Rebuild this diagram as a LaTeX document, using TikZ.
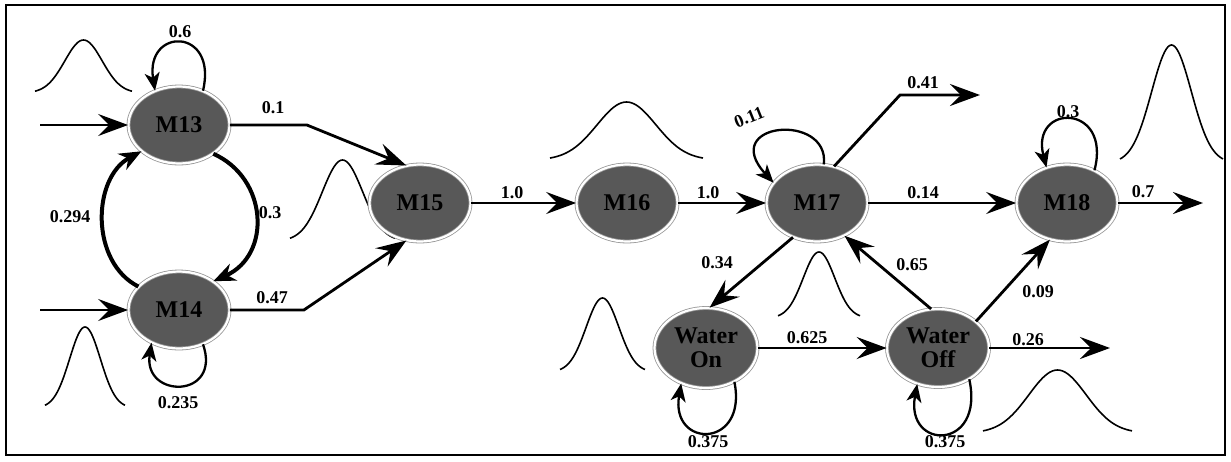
\documentclass[tikz,border=0pt]{standalone}
\usepackage{fontspec}
\setmainfont{Liberation Serif}
\usetikzlibrary{arrows.meta,shapes.geometric}
\definecolor{nodefill}{RGB}{88,88,88}
\definecolor{ringgray}{RGB}{150,150,150}
\newcommand\gausscurve[4]{\draw[gline] plot[domain=-2.6:2.6,samples=61,smooth] ({(#1+#2)/2+(#2-#1)/5.2*\x},{-#3+(#3-#4)*exp(-0.5*\x*\x)});}
\begin{document}
\begin{tikzpicture}[x=1pt,y=1pt,
  state/.style={ellipse, fill=nodefill, draw=ringgray, line width=0.8pt, double=white, double distance=2.2pt,
    minimum width=101pt, minimum height=77pt, inner sep=0pt,
    font=\fontsize{24}{24}\selectfont\bfseries, align=center, text=black},
  edge/.style={line width=2.8pt, -{Stealth[length=30pt,width=22pt,inset=11pt]}},
  arcedge/.style={line width=4pt, -{Stealth[length=22pt,width=18pt,inset=7pt]}},
  loopedge/.style={line width=2.3pt, -{Stealth[length=18pt,width=15pt,inset=5pt]}},
  lbl/.style={font=\fontsize{18}{18}\selectfont\bfseries, inner sep=1pt},
  gline/.style={line width=1.6pt}]
\useasboundingbox (0,0) rectangle (1231,-461);
\draw[line width=1.4pt] (6,-5) rectangle (1225,-455);

% distributions
\gausscurve{35}{132}{93}{40}
\gausscurve{45}{125}{408}{327}
\gausscurve{290}{395}{241}{160}
\gausscurve{550}{703}{160}{102}
\gausscurve{560}{645}{372}{298}
\gausscurve{778}{860}{318}{252}
\gausscurve{1120}{1223}{163}{45}
\gausscurve{983}{1132}{433}{370}

% states
\node[state] (m13) at (179,-125) {M13};
\node[state] (m14) at (179,-310) {M14};
\node[state] (m15) at (420,-203) {M15};
\node[state] (m16) at (627,-203) {M16};
\node[state] (m17) at (817,-203) {M17};
\node[state] (m18) at (1067,-203) {M18};
\node[state, minimum width=103pt, minimum height=80pt] (won) at (706,-348) {Water\\On};
\node[state, minimum width=102pt, minimum height=78pt] (woff) at (938,-348) {Water\\Off};

\coordinate (in13) at (40,-125);
\coordinate (in14) at (40,-310);
\coordinate (o41) at (980,-95);
\coordinate (o7) at (1203,-203);
\coordinate (o26) at (1110,-348);

% transitions
\draw[edge] (in13) -- (m13);
\draw[edge] (in14) -- (m14);
\draw[edge] (m13.east) -- ++(77,0) -- (m15.110);
\draw[edge] (m14.east) -- ++(74,0) -- (m15.250);
\draw[arcedge] (m14.150) .. controls (90,-262) and (92,-178) .. (m13.215);
\draw[arcedge] (m13.320) .. controls (268,-178) and (272,-255) .. (m14.40);
\draw[loopedge] (m13.55) .. controls (218,-27) and (145,-27) .. (m13.125);
\draw[loopedge] (m14.-55) .. controls (222,-399) and (143,-399) .. (m14.-130);
\draw[loopedge] (m17.80) .. controls (830,-112) and (718,-122) .. (m17.155);
\draw[loopedge] (m18.50) .. controls (1112,-103) and (1030,-103) .. (m18.120);
\draw[loopedge] (won.-50) .. controls (748,-449) and (670,-449) .. (won.-125);
\draw[loopedge] (woff.-45) .. controls (985,-451) and (905,-451) .. (woff.-120);

\draw[edge] (m15) -- (m16);
\draw[edge] (m16) -- (m17);
\draw[edge] (m17) -- (m18);
\draw[edge] (m18) -- (o7);
\draw[edge] (m17.65) -- (900,-95) -- (o41);
\draw[edge] (m17.235) -- (won.85);
\draw[edge] (won) -- (woff);
\draw[edge] (woff.100) -- (m17.-50);
\draw[edge] (woff.35) -- (m18.-115);
\draw[edge] (woff) -- (o26);

% labels
\node[lbl] (l06) at (180,-32) {0.6};
\node[lbl] (l01) at (273,-108) {0.1};
\node[lbl] (l0294) at (70,-217) {0.294};
\node[lbl] (l03a) at (270,-213) {0.3};
\node[lbl] (l047) at (272,-298) {0.47};
\node[lbl] (l0235) at (178,-403) {0.235};
\node[lbl] (l10a) at (512,-193) {1.0};
\node[lbl] (l10b) at (708,-193) {1.0};
\node[lbl, rotate=22] (l011) at (749,-117) {0.11};
\node[lbl] (l041) at (923,-83) {0.41};
\node[lbl] (l014) at (923,-193) {0.14};
\node[lbl] (l03b) at (1068,-112) {0.3};
\node[lbl] (l07) at (1143,-192) {0.7};
\node[lbl] (l034) at (717,-263) {0.34};
\node[lbl] (l0625) at (807,-338) {0.625};
\node[lbl] (l065) at (912,-265) {0.65};
\node[lbl] (l009) at (1038,-292) {0.09};
\node[lbl] (l026) at (1028,-340) {0.26};
\node[lbl] (l0375a) at (708,-442) {0.375};
\node[lbl] (l0375b) at (945,-442) {0.375};
\end{tikzpicture}
\end{document}
